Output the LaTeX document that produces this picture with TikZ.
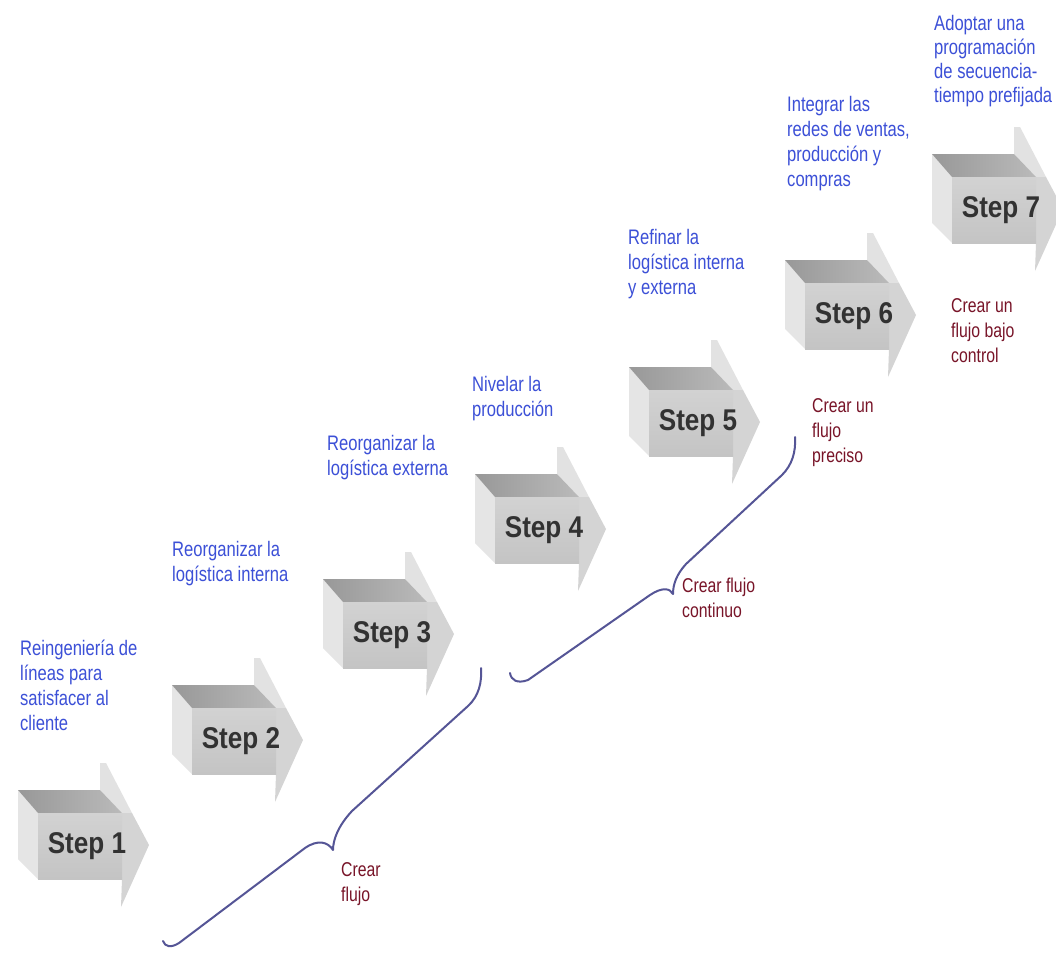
\documentclass[tikz,border=0pt]{standalone}
\usepackage{fontspec}
\setmainfont{Liberation Sans}
\newfontfamily\lblfont[FakeStretch=0.79]{Liberation Sans}
\newfontfamily\stepfont[FakeStretch=0.87]{Liberation Sans}

\definecolor{lblblue}{RGB}{60,80,215}
\definecolor{lblred}{RGB}{120,20,40}
\definecolor{bracecol}{RGB}{85,85,150}
\definecolor{topdark}{RGB}{152,152,152}
\definecolor{toplight}{RGB}{186,186,186}
\definecolor{fronttop}{RGB}{210,210,210}
\definecolor{frontbot}{RGB}{196,196,196}
\definecolor{sidegray}{RGB}{229,229,229}
\definecolor{headlight}{RGB}{226,226,226}
\definecolor{headmid}{RGB}{212,212,212}
\definecolor{steptext}{RGB}{50,50,50}

\tikzset{
  bluelbl/.style={anchor=base west, inner sep=0pt, text=lblblue,
    font=\lblfont\fontsize{21}{25}\selectfont},
  redlbl/.style={anchor=base west, inner sep=0pt, text=lblred,
    font=\lblfont\fontsize{20}{25}\selectfont},
  steplbl/.style={inner sep=0pt, text=steptext,
    font=\stepfont\bfseries\fontsize{30}{36}\selectfont},
  bracepath/.style={draw=bracecol, line width=2pt, line cap=round, line join=round},
}

% multi-line label whose baseline is the first line
\newcommand\lns[1]{\begin{tabular}[t]{@{}l@{}}#1\end{tabular}}

% 3D block arrow: name, x, y of front face top-left corner, step number
\newcommand\stepbox[4]{%
  \begin{scope}[shift={(#2,#3)}]
    \fill[headlight] (62,-23) -- (62,-50) -- (68,-50) -- (94,0) -- (84,0) -- cycle;
    \fill[headmid] (84,0) -- (94,0) -- (111,32) -- (83,94) -- (84,66) -- cycle;
    \fill[sidegray] (-20,-23) -- (0,0) -- (0,66) -- (-20,46) -- cycle;
    \shade[left color=topdark, right color=toplight]
      (-20,-23) -- (62,-23) -- (84,0) -- (0,0) -- cycle;
    \shade[top color=fronttop, bottom color=frontbot] (0,0) rectangle (84,66);
    \node[steplbl] (#1) at (49,33) {Step #4};
  \end{scope}}

\begin{document}
\begin{tikzpicture}[x=1pt,y=-1pt]
  \path[use as bounding box] (0,0) rectangle (1056,956);
  \fill[white] (0,0) rectangle (1056,956);
  \clip (0,0) rectangle (1056,956);

  % step arrows
  \stepbox{s1}{38}{813}{1}
  \stepbox{s2}{192}{708}{2}
  \stepbox{s3}{343}{602}{3}
  \stepbox{s4}{495}{497}{4}
  \stepbox{s5}{649}{390}{5}
  \stepbox{s6}{805}{283}{6}
  \stepbox{s7}{952}{177}{7}

  % step descriptions
  \node[bluelbl] (b1) at (20,655) {\lns{Reingeniería de\\líneas para\\satisfacer al\\cliente}};
  \node[bluelbl] (b2) at (172,556) {\lns{Reorganizar la\\logística interna}};
  \node[bluelbl] (b3) at (327,450) {\lns{Reorganizar la\\logística externa}};
  \node[bluelbl] (b4) at (472,391) {\lns{Nivelar la\\producción}};
  \node[bluelbl] (b5) at (628,244) {\lns{Refinar la\\logística interna\\y externa}};
  \node[bluelbl] (b6) at (787,111) {\lns{Integrar las\\redes de ventas,\\producción y\\compras}};
  \node[bluelbl, font=\lblfont\fontsize{21}{24}\selectfont] (b7) at (934,30)
    {\lns{Adoptar una\\programación\\de secuencia-\\tiempo prefijada}};

  % flow stages
  \node[redlbl] (r1) at (341,876) {\lns{Crear\\flujo}};
  \node[redlbl] (r2) at (682,592) {\lns{Crear flujo\\continuo}};
  \node[redlbl] (r3) at (812,412) {\lns{Crear un\\flujo\\preciso}};
  \node[redlbl] (r4) at (951,312) {\lns{Crear un\\flujo bajo\\control}};

  % braces
  \coordinate (k1a) at (163,941);
  \coordinate (k1c) at (333,850);
  \coordinate (k1b) at (481,668);
  \coordinate (k2a) at (510,673);
  \coordinate (k2c) at (673,594);
  \coordinate (k2b) at (795,437);

  \draw[bracepath] (k1a) .. controls (165,947) and (171,948) .. (179,943)
    -- (305,848) .. controls (318,839) and (328,842) .. (k1c)
    .. controls (333,840) and (338,826) .. (352,811)
    -- (468,706) .. controls (479,696) and (482,682) .. (k1b);

  \draw[bracepath] (k2a) .. controls (511,680) and (517,684) .. (528,680)
    -- (650,595) .. controls (662,587) and (670,588) .. (k2c)
    .. controls (673,585) and (676,575) .. (686,564)
    -- (782,475) .. controls (792,465) and (796,452) .. (k2b);
\end{tikzpicture}
\end{document}
